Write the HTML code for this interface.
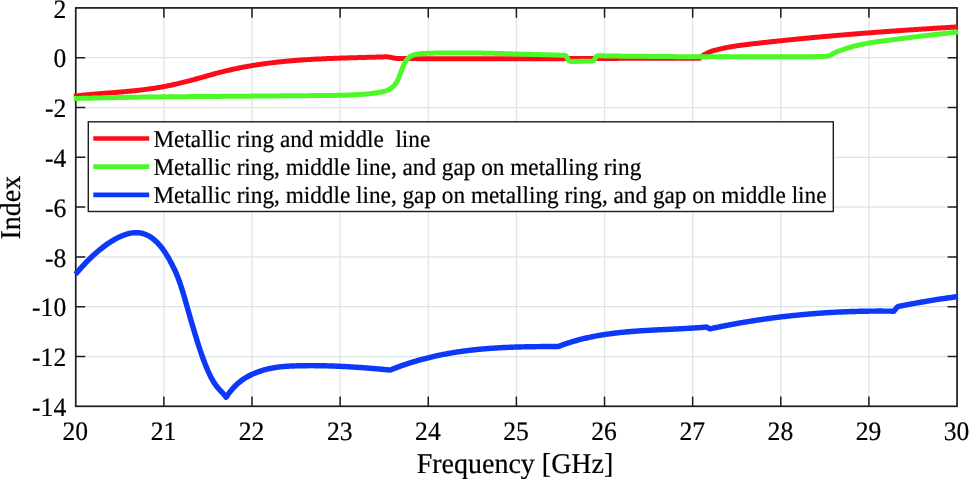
<!DOCTYPE html>
<html><head><meta charset="utf-8"><title>Index vs Frequency</title>
<style>
html,body{margin:0;padding:0;background:#fff;overflow:hidden}
svg{display:block}
text{font-family:"Liberation Serif",serif;text-rendering:geometricPrecision;fill:#000;stroke:#000;stroke-width:.22px}
</style></head>
<body>
<svg width="969" height="479" viewBox="0 0 969 479">
<rect width="969" height="479" fill="#fff"/>
<path d="M163.88 7.9V406.3M252.01 7.9V406.3M340.14 7.9V406.3M428.27 7.9V406.3M516.40 7.9V406.3M604.53 7.9V406.3M692.66 7.9V406.3M780.79 7.9V406.3M868.92 7.9V406.3M75.75 57.70H957.05M75.75 107.50H957.05M75.75 157.30H957.05M75.75 207.10H957.05M75.75 256.90H957.05M75.75 306.70H957.05M75.75 356.50H957.05" stroke="#28645a" stroke-opacity=".17" stroke-width="1.25" fill="none"/>
<path d="M163.88 406.3v-9.8M163.88 7.9v9.8M252.01 406.3v-9.8M252.01 7.9v9.8M340.14 406.3v-9.8M340.14 7.9v9.8M428.27 406.3v-9.8M428.27 7.9v9.8M516.40 406.3v-9.8M516.40 7.9v9.8M604.53 406.3v-9.8M604.53 7.9v9.8M692.66 406.3v-9.8M692.66 7.9v9.8M780.79 406.3v-9.8M780.79 7.9v9.8M868.92 406.3v-9.8M868.92 7.9v9.8M75.75 57.70h9.4M957.05 57.70h-9.4M75.75 107.50h9.4M957.05 107.50h-9.4M75.75 157.30h9.4M957.05 157.30h-9.4M75.75 207.10h9.4M957.05 207.10h-9.4M75.75 256.90h9.4M957.05 256.90h-9.4M75.75 306.70h9.4M957.05 306.70h-9.4M75.75 356.50h9.4M957.05 356.50h-9.4" stroke="#1c1c1c" stroke-width="1.5" fill="none"/>
<rect x="75.75" y="7.9" width="881.30" height="398.40" stroke="#1c1c1c" stroke-width="1.7" fill="none"/>
<path d="M73.9 96.20L74.9 96.08L75.9 95.97L76.9 95.85L77.9 95.74L78.9 95.63L79.9 95.52L80.9 95.41L81.9 95.31L82.9 95.21L83.9 95.11L84.9 95.01L85.9 94.91L86.9 94.81L87.9 94.72L88.9 94.63L89.9 94.53L90.9 94.44L91.9 94.35L92.9 94.27L93.9 94.18L94.9 94.09L95.9 94.01L96.9 93.92L97.9 93.84L98.9 93.76L99.9 93.67L100.9 93.59L101.9 93.51L102.9 93.43L103.9 93.35L104.9 93.27L105.9 93.19L106.9 93.11L107.9 93.03L108.9 92.95L109.9 92.87L110.9 92.79L111.9 92.71L112.9 92.63L113.9 92.55L114.9 92.47L115.9 92.39L116.9 92.31L117.9 92.23L118.9 92.14L119.9 92.06L120.9 91.97L121.9 91.89L122.9 91.80L123.9 91.71L124.9 91.63L125.9 91.54L126.9 91.44L127.9 91.35L128.9 91.26L129.9 91.16L130.9 91.07L131.9 90.97L132.9 90.87L133.9 90.77L134.9 90.66L135.9 90.56L136.9 90.45L137.9 90.34L138.9 90.23L139.9 90.12L140.9 90.00L141.9 89.88L142.9 89.76L143.9 89.64L144.9 89.52L145.9 89.39L146.9 89.26L147.9 89.13L148.9 88.99L149.9 88.85L150.9 88.71L151.9 88.57L152.9 88.42L153.9 88.27L154.9 88.12L155.9 87.96L156.9 87.80L157.9 87.64L158.9 87.47L159.9 87.30L160.9 87.13L161.9 86.95L162.9 86.77L163.9 86.58L164.9 86.39L165.9 86.20L166.9 86.00L167.9 85.80L168.9 85.60L169.9 85.39L170.9 85.18L171.9 84.97L172.9 84.75L173.9 84.53L174.9 84.31L175.9 84.08L176.9 83.85L177.9 83.62L178.9 83.39L179.9 83.15L180.9 82.91L181.9 82.66L182.9 82.42L183.9 82.17L184.9 81.92L185.9 81.67L186.9 81.41L187.9 81.15L188.9 80.89L189.9 80.63L190.9 80.37L191.9 80.10L192.9 79.84L193.9 79.57L194.9 79.30L195.9 79.02L196.9 78.75L197.9 78.48L198.9 78.20L199.9 77.92L200.9 77.64L201.9 77.36L202.9 77.08L203.9 76.80L204.9 76.52L205.9 76.24L206.9 75.96L207.9 75.68L208.9 75.40L209.9 75.12L210.9 74.84L211.9 74.56L212.9 74.28L213.9 74.01L214.9 73.73L215.9 73.46L216.9 73.19L217.9 72.92L218.9 72.66L219.9 72.40L220.9 72.14L221.9 71.88L222.9 71.63L223.9 71.38L224.9 71.14L225.9 70.89L226.9 70.65L227.9 70.42L228.9 70.19L229.9 69.96L230.9 69.73L231.9 69.50L232.9 69.28L233.9 69.06L234.9 68.85L235.9 68.64L236.9 68.43L237.9 68.22L238.9 68.02L239.9 67.82L240.9 67.62L241.9 67.42L242.9 67.23L243.9 67.04L244.9 66.86L245.9 66.67L246.9 66.49L247.9 66.31L248.9 66.14L249.9 65.96L250.9 65.79L251.9 65.62L252.9 65.46L253.9 65.29L254.9 65.13L255.9 64.97L256.9 64.82L257.9 64.66L258.9 64.51L259.9 64.36L260.9 64.22L261.9 64.07L262.9 63.93L263.9 63.79L264.9 63.66L265.9 63.52L266.9 63.39L267.9 63.26L268.9 63.13L269.9 63.00L270.9 62.88L271.9 62.76L272.9 62.64L273.9 62.52L274.9 62.40L275.9 62.29L276.9 62.18L277.9 62.07L278.9 61.96L279.9 61.85L280.9 61.75L281.9 61.65L282.9 61.55L283.9 61.45L284.9 61.35L285.9 61.26L286.9 61.16L287.9 61.07L288.9 60.98L289.9 60.90L290.9 60.81L291.9 60.72L292.9 60.64L293.9 60.56L294.9 60.48L295.9 60.40L296.9 60.32L297.9 60.25L298.9 60.17L299.9 60.10L300.9 60.03L301.9 59.96L302.9 59.89L303.9 59.83L304.9 59.76L305.9 59.70L306.9 59.63L307.9 59.57L308.9 59.51L309.9 59.45L310.9 59.40L311.9 59.34L312.9 59.28L313.9 59.23L314.9 59.18L315.9 59.12L316.9 59.07L317.9 59.02L318.9 58.97L319.9 58.93L320.9 58.88L321.9 58.83L322.9 58.79L323.9 58.74L324.9 58.70L325.9 58.66L326.9 58.61L327.9 58.57L328.9 58.53L329.9 58.49L330.9 58.46L331.9 58.42L332.9 58.38L333.9 58.34L334.9 58.31L335.9 58.27L336.9 58.24L337.9 58.20L338.9 58.17L339.9 58.14L340.9 58.10L341.9 58.07L342.9 58.04L343.9 58.01L344.9 57.98L345.9 57.95L346.9 57.92L347.9 57.89L348.9 57.86L349.9 57.83L350.9 57.80L351.9 57.78L352.9 57.75L353.9 57.72L354.9 57.69L355.9 57.66L356.9 57.64L357.9 57.61L358.9 57.58L359.9 57.55L360.9 57.53L361.9 57.50L362.9 57.47L363.9 57.45L364.9 57.42L365.9 57.39L366.9 57.37L367.9 57.34L368.9 57.31L369.9 57.28L370.9 57.26L371.9 57.23L372.9 57.20L373.9 57.17L374.9 57.14L375.9 57.11L376.9 57.08L377.9 57.05L378.9 57.02L379.9 56.99L380.9 56.96L381.9 56.93L382.9 56.90L383.9 56.87L384.9 56.83L385.9 56.80L386.0 56.80L386.0 56.80L387.0 56.83L388.0 56.90L389.0 57.00L390.0 57.16L391.0 57.38L392.0 57.60L393.0 57.82L394.0 58.04L395.0 58.20L396.0 58.31L397.0 58.40L398.0 58.45L399.0 58.47L400.0 58.49L401.0 58.50L402.0 58.50L402.0 58.50L403.0 58.51L404.0 58.52L405.0 58.53L406.0 58.54L407.0 58.55L408.0 58.56L409.0 58.57L410.0 58.57L411.0 58.58L412.0 58.59L413.0 58.60L414.0 58.61L415.0 58.62L416.0 58.62L417.0 58.63L418.0 58.64L419.0 58.65L420.0 58.65L421.0 58.66L422.0 58.67L423.0 58.67L424.0 58.68L425.0 58.69L426.0 58.69L427.0 58.70L428.0 58.71L429.0 58.71L430.0 58.72L431.0 58.72L432.0 58.73L433.0 58.73L434.0 58.74L435.0 58.75L436.0 58.75L437.0 58.76L438.0 58.76L439.0 58.76L440.0 58.77L441.0 58.77L442.0 58.78L443.0 58.78L444.0 58.79L445.0 58.79L446.0 58.79L447.0 58.80L448.0 58.80L449.0 58.80L450.0 58.81L451.0 58.81L452.0 58.81L453.0 58.82L454.0 58.82L455.0 58.82L456.0 58.83L457.0 58.83L458.0 58.83L459.0 58.83L460.0 58.83L461.0 58.84L462.0 58.84L463.0 58.84L464.0 58.84L465.0 58.84L466.0 58.85L467.0 58.85L468.0 58.85L469.0 58.85L470.0 58.85L471.0 58.85L472.0 58.85L473.0 58.85L474.0 58.85L475.0 58.85L476.0 58.86L477.0 58.86L478.0 58.86L479.0 58.86L480.0 58.86L481.0 58.86L482.0 58.86L483.0 58.86L484.0 58.86L485.0 58.86L486.0 58.86L487.0 58.85L488.0 58.85L489.0 58.85L490.0 58.85L491.0 58.85L492.0 58.85L493.0 58.85L494.0 58.85L495.0 58.85L496.0 58.85L497.0 58.85L498.0 58.84L499.0 58.84L500.0 58.84L501.0 58.84L502.0 58.84L503.0 58.84L504.0 58.83L505.0 58.83L506.0 58.83L507.0 58.83L508.0 58.83L509.0 58.82L510.0 58.82L511.0 58.82L512.0 58.82L513.0 58.82L514.0 58.81L515.0 58.81L516.0 58.81L517.0 58.80L518.0 58.80L519.0 58.80L520.0 58.80L521.0 58.79L522.0 58.79L523.0 58.79L524.0 58.78L525.0 58.78L526.0 58.78L527.0 58.78L528.0 58.77L529.0 58.77L530.0 58.77L531.0 58.76L532.0 58.76L533.0 58.75L534.0 58.75L535.0 58.75L536.0 58.74L537.0 58.74L538.0 58.74L539.0 58.73L540.0 58.73L541.0 58.73L542.0 58.72L543.0 58.72L544.0 58.71L545.0 58.71L546.0 58.71L547.0 58.70L548.0 58.70L549.0 58.69L550.0 58.69L551.0 58.68L552.0 58.68L553.0 58.68L554.0 58.67L555.0 58.67L556.0 58.66L557.0 58.66L558.0 58.65L559.0 58.65L560.0 58.65L561.0 58.64L562.0 58.64L563.0 58.63L564.0 58.63L565.0 58.62L566.0 58.62L567.0 58.61L568.0 58.61L569.0 58.60L570.0 58.60L571.0 58.60L572.0 58.59L573.0 58.59L574.0 58.58L575.0 58.58L576.0 58.57L577.0 58.57L578.0 58.56L579.0 58.56L580.0 58.55L581.0 58.55L582.0 58.54L583.0 58.54L584.0 58.53L585.0 58.53L586.0 58.52L587.0 58.52L588.0 58.52L589.0 58.51L590.0 58.51L591.0 58.50L592.0 58.50L593.0 58.49L594.0 58.49L595.0 58.48L596.0 58.48L597.0 58.47L598.0 58.47L599.0 58.46L600.0 58.46L601.0 58.45L602.0 58.45L603.0 58.45L604.0 58.44L605.0 58.44L606.0 58.43L607.0 58.43L608.0 58.42L609.0 58.42L610.0 58.41L611.0 58.41L612.0 58.40L613.0 58.40L614.0 58.40L615.0 58.39L616.0 58.39L617.0 58.38L618.0 58.38L619.0 58.37L620.0 58.37L621.0 58.37L622.0 58.36L623.0 58.36L624.0 58.35L625.0 58.35L626.0 58.34L627.0 58.34L628.0 58.34L629.0 58.33L630.0 58.33L631.0 58.33L632.0 58.32L633.0 58.32L634.0 58.31L635.0 58.31L636.0 58.31L637.0 58.30L638.0 58.30L639.0 58.30L640.0 58.29L641.0 58.29L642.0 58.29L643.0 58.28L644.0 58.28L645.0 58.28L646.0 58.27L647.0 58.27L648.0 58.27L649.0 58.26L650.0 58.26L651.0 58.26L652.0 58.25L653.0 58.25L654.0 58.25L655.0 58.25L656.0 58.24L657.0 58.24L658.0 58.24L659.0 58.24L660.0 58.23L661.0 58.23L662.0 58.23L663.0 58.23L664.0 58.22L665.0 58.22L666.0 58.22L667.0 58.22L668.0 58.22L669.0 58.21L670.0 58.21L671.0 58.21L672.0 58.21L673.0 58.21L674.0 58.21L675.0 58.21L676.0 58.20L677.0 58.20L678.0 58.20L679.0 58.20L680.0 58.20L681.0 58.20L682.0 58.20L683.0 58.20L684.0 58.20L685.0 58.20L686.0 58.20L687.0 58.20L688.0 58.20L689.0 58.20L690.0 58.20L691.0 58.20L692.0 58.20L693.0 58.20L694.0 58.20L695.0 58.20L696.0 58.20L697.0 58.20L698.0 58.20L699.0 58.20L699.5 58.20L699.5 58.16L700.5 57.31L701.5 56.52L702.5 55.79L703.5 55.11L704.5 54.49L705.5 53.91L706.5 53.38L707.5 52.90L708.5 52.45L709.5 52.03L710.5 51.65L711.5 51.30L712.5 50.97L713.5 50.66L714.5 50.38L715.5 50.10L716.5 49.84L717.5 49.58L718.5 49.33L719.5 49.09L720.5 48.85L721.5 48.63L722.5 48.40L723.5 48.19L724.5 47.98L725.5 47.78L726.5 47.58L727.5 47.39L728.5 47.20L729.5 47.02L730.5 46.85L731.5 46.68L732.5 46.51L733.5 46.35L734.5 46.19L735.5 46.04L736.5 45.89L737.5 45.74L738.5 45.60L739.5 45.46L740.5 45.32L741.5 45.19L742.5 45.06L743.5 44.93L744.5 44.80L745.5 44.68L746.5 44.55L747.5 44.43L748.5 44.31L749.5 44.19L750.5 44.08L751.5 43.96L752.5 43.84L753.5 43.73L754.5 43.61L755.5 43.50L756.5 43.39L757.5 43.27L758.5 43.16L759.5 43.05L760.5 42.93L761.5 42.82L762.5 42.71L763.5 42.60L764.5 42.49L765.5 42.38L766.5 42.27L767.5 42.16L768.5 42.05L769.5 41.94L770.5 41.83L771.5 41.72L772.5 41.61L773.5 41.51L774.5 41.40L775.5 41.29L776.5 41.19L777.5 41.08L778.5 40.98L779.5 40.87L780.5 40.77L781.5 40.66L782.5 40.56L783.5 40.45L784.5 40.35L785.5 40.25L786.5 40.15L787.5 40.04L788.5 39.94L789.5 39.84L790.5 39.74L791.5 39.64L792.5 39.54L793.5 39.44L794.5 39.34L795.5 39.24L796.5 39.14L797.5 39.04L798.5 38.94L799.5 38.85L800.5 38.75L801.5 38.65L802.5 38.56L803.5 38.46L804.5 38.36L805.5 38.27L806.5 38.17L807.5 38.08L808.5 37.98L809.5 37.89L810.5 37.79L811.5 37.70L812.5 37.61L813.5 37.51L814.5 37.42L815.5 37.33L816.5 37.24L817.5 37.15L818.5 37.05L819.5 36.96L820.5 36.87L821.5 36.78L822.5 36.69L823.5 36.60L824.5 36.51L825.5 36.42L826.5 36.34L827.5 36.25L828.5 36.16L829.5 36.07L830.5 35.98L831.5 35.90L832.5 35.81L833.5 35.72L834.5 35.64L835.5 35.55L836.5 35.46L837.5 35.38L838.5 35.29L839.5 35.21L840.5 35.12L841.5 35.04L842.5 34.96L843.5 34.87L844.5 34.79L845.5 34.71L846.5 34.62L847.5 34.54L848.5 34.46L849.5 34.38L850.5 34.30L851.5 34.21L852.5 34.13L853.5 34.05L854.5 33.97L855.5 33.89L856.5 33.81L857.5 33.73L858.5 33.65L859.5 33.57L860.5 33.49L861.5 33.42L862.5 33.34L863.5 33.26L864.5 33.18L865.5 33.10L866.5 33.03L867.5 32.95L868.5 32.87L869.5 32.80L870.5 32.72L871.5 32.64L872.5 32.57L873.5 32.49L874.5 32.42L875.5 32.34L876.5 32.27L877.5 32.19L878.5 32.12L879.5 32.05L880.5 31.97L881.5 31.90L882.5 31.82L883.5 31.75L884.5 31.68L885.5 31.61L886.5 31.53L887.5 31.46L888.5 31.39L889.5 31.32L890.5 31.25L891.5 31.18L892.5 31.10L893.5 31.03L894.5 30.96L895.5 30.89L896.5 30.82L897.5 30.75L898.5 30.68L899.5 30.61L900.5 30.54L901.5 30.48L902.5 30.41L903.5 30.34L904.5 30.27L905.5 30.20L906.5 30.13L907.5 30.07L908.5 30.00L909.5 29.93L910.5 29.86L911.5 29.80L912.5 29.73L913.5 29.66L914.5 29.60L915.5 29.53L916.5 29.46L917.5 29.40L918.5 29.33L919.5 29.27L920.5 29.20L921.5 29.14L922.5 29.07L923.5 29.01L924.5 28.94L925.5 28.88L926.5 28.82L927.5 28.75L928.5 28.69L929.5 28.62L930.5 28.56L931.5 28.50L932.5 28.43L933.5 28.37L934.5 28.31L935.5 28.25L936.5 28.18L937.5 28.12L938.5 28.06L939.5 28.00L940.5 27.94L941.5 27.87L942.5 27.81L943.5 27.75L944.5 27.69L945.5 27.63L946.5 27.57L947.5 27.51L948.5 27.45L949.5 27.39L950.5 27.33L951.5 27.27L952.5 27.21L953.5 27.15L954.5 27.09L955.5 27.03L956.5 26.97L957.5 26.91L957.6 26.90" stroke="#fb0c18" stroke-width="5.0" fill="none" stroke-linejoin="round"/>
<path d="M73.9 98.55L74.9 98.52L75.9 98.50L76.9 98.48L77.9 98.45L78.9 98.43L79.9 98.41L80.9 98.38L81.9 98.36L82.9 98.34L83.9 98.31L84.9 98.29L85.9 98.27L86.9 98.24L87.9 98.22L88.9 98.20L89.9 98.17L90.9 98.15L91.9 98.13L92.9 98.10L93.9 98.08L94.9 98.06L95.9 98.03L96.9 98.01L97.9 97.99L98.9 97.96L99.9 97.94L100.9 97.92L101.9 97.89L102.9 97.87L103.9 97.85L104.9 97.83L105.9 97.80L106.9 97.78L107.9 97.76L108.9 97.74L109.9 97.72L110.9 97.69L111.9 97.67L112.9 97.65L113.9 97.63L114.9 97.61L115.9 97.59L116.9 97.57L117.9 97.54L118.9 97.52L119.9 97.50L120.9 97.48L121.9 97.46L122.9 97.44L123.9 97.42L124.9 97.40L125.9 97.39L126.9 97.37L127.9 97.35L128.9 97.33L129.9 97.31L130.9 97.29L131.9 97.27L132.9 97.26L133.9 97.24L134.9 97.22L135.9 97.21L136.9 97.19L137.9 97.17L138.9 97.16L139.9 97.14L140.9 97.13L141.9 97.11L142.9 97.10L143.9 97.08L144.9 97.07L145.9 97.05L146.9 97.04L147.9 97.03L148.9 97.01L149.9 97.00L150.9 96.99L151.9 96.98L152.9 96.97L153.9 96.95L154.9 96.94L155.9 96.93L156.9 96.92L157.9 96.91L158.9 96.90L159.9 96.89L160.9 96.88L161.9 96.87L162.9 96.85L163.9 96.84L164.9 96.83L165.9 96.82L166.9 96.81L167.9 96.81L168.9 96.80L169.9 96.79L170.9 96.78L171.9 96.77L172.9 96.76L173.9 96.75L174.9 96.74L175.9 96.73L176.9 96.72L177.9 96.71L178.9 96.70L179.9 96.70L180.9 96.69L181.9 96.68L182.9 96.67L183.9 96.66L184.9 96.65L185.9 96.65L186.9 96.64L187.9 96.63L188.9 96.62L189.9 96.61L190.9 96.61L191.9 96.60L192.9 96.59L193.9 96.58L194.9 96.58L195.9 96.57L196.9 96.56L197.9 96.55L198.9 96.54L199.9 96.54L200.9 96.53L201.9 96.52L202.9 96.51L203.9 96.51L204.9 96.50L205.9 96.49L206.9 96.48L207.9 96.48L208.9 96.47L209.9 96.46L210.9 96.45L211.9 96.45L212.9 96.44L213.9 96.43L214.9 96.42L215.9 96.42L216.9 96.41L217.9 96.40L218.9 96.39L219.9 96.38L220.9 96.38L221.9 96.37L222.9 96.36L223.9 96.35L224.9 96.34L225.9 96.33L226.9 96.33L227.9 96.32L228.9 96.31L229.9 96.30L230.9 96.29L231.9 96.28L232.9 96.27L233.9 96.27L234.9 96.26L235.9 96.25L236.9 96.24L237.9 96.23L238.9 96.22L239.9 96.22L240.9 96.21L241.9 96.20L242.9 96.19L243.9 96.18L244.9 96.17L245.9 96.16L246.9 96.16L247.9 96.15L248.9 96.14L249.9 96.13L250.9 96.12L251.9 96.11L252.9 96.11L253.9 96.10L254.9 96.09L255.9 96.08L256.9 96.07L257.9 96.06L258.9 96.06L259.9 96.05L260.9 96.04L261.9 96.03L262.9 96.02L263.9 96.01L264.9 96.01L265.9 96.00L266.9 95.99L267.9 95.98L268.9 95.97L269.9 95.96L270.9 95.96L271.9 95.95L272.9 95.94L273.9 95.93L274.9 95.92L275.9 95.91L276.9 95.91L277.9 95.90L278.9 95.89L279.9 95.88L280.9 95.87L281.9 95.86L282.9 95.85L283.9 95.84L284.9 95.84L285.9 95.83L286.9 95.82L287.9 95.81L288.9 95.80L289.9 95.79L290.9 95.78L291.9 95.77L292.9 95.76L293.9 95.76L294.9 95.75L295.9 95.74L296.9 95.73L297.9 95.72L298.9 95.71L299.9 95.70L300.9 95.69L301.9 95.68L302.9 95.67L303.9 95.67L304.9 95.66L305.9 95.65L306.9 95.64L307.9 95.63L308.9 95.63L309.9 95.62L310.9 95.61L311.9 95.60L312.9 95.60L313.9 95.59L314.9 95.58L315.9 95.57L316.9 95.56L317.9 95.56L318.9 95.55L319.9 95.54L320.9 95.53L321.9 95.52L322.9 95.51L323.9 95.50L324.9 95.50L325.9 95.49L326.9 95.48L327.9 95.46L328.9 95.45L329.9 95.44L330.9 95.43L331.9 95.42L332.9 95.41L333.9 95.39L334.9 95.38L335.9 95.36L336.9 95.35L337.9 95.33L338.9 95.32L339.9 95.30L340.9 95.28L341.9 95.26L342.9 95.24L343.9 95.21L344.9 95.18L345.9 95.15L346.9 95.12L347.9 95.08L348.9 95.04L349.9 95.00L350.9 94.96L351.9 94.92L352.9 94.87L353.9 94.82L354.9 94.77L355.9 94.72L356.9 94.67L357.9 94.62L358.9 94.56L359.9 94.51L360.9 94.45L361.9 94.38L362.9 94.31L363.9 94.24L364.9 94.16L365.9 94.07L366.9 93.99L367.9 93.89L368.9 93.79L369.9 93.69L370.9 93.58L371.9 93.47L372.9 93.35L373.9 93.23L374.9 93.10L375.9 92.95L376.9 92.80L377.9 92.64L378.9 92.46L379.9 92.27L380.9 92.07L381.9 91.86L382.9 91.63L383.9 91.37L384.9 91.09L385.9 90.77L386.9 90.40L387.9 90.00L388.9 89.55L389.9 89.01L390.9 88.36L391.9 87.61L392.9 86.77L393.9 85.81L394.9 84.66L395.9 83.30L396.9 81.69L397.9 79.70L398.9 77.47L399.9 74.87L400.9 72.17L401.9 69.50L402.9 66.96L403.9 64.54L404.9 62.58L405.9 60.96L406.9 59.62L407.9 58.49L408.9 57.51L409.9 56.73L410.9 56.14L411.9 55.64L412.9 55.23L413.9 54.90L414.9 54.63L415.9 54.39L416.9 54.19L417.9 54.02L418.9 53.90L419.9 53.80L420.9 53.71L421.9 53.64L422.9 53.56L423.9 53.50L424.9 53.44L425.9 53.39L426.9 53.35L427.9 53.31L428.9 53.28L429.9 53.25L430.9 53.22L431.9 53.18L432.9 53.15L433.9 53.13L434.9 53.10L435.9 53.07L436.9 53.05L437.9 53.02L438.9 53.00L439.9 52.98L440.9 52.96L441.9 52.95L442.9 52.93L443.9 52.92L444.9 52.91L445.9 52.90L446.9 52.90L447.9 52.90L448.9 52.90L449.9 52.90L450.9 52.90L451.9 52.90L452.9 52.91L453.9 52.91L454.9 52.91L455.9 52.92L456.9 52.92L457.9 52.93L458.9 52.93L459.9 52.94L460.9 52.94L461.9 52.95L462.9 52.95L463.9 52.96L464.9 52.97L465.9 52.98L466.9 52.98L467.9 52.99L468.9 53.00L469.9 53.01L470.9 53.02L471.9 53.02L472.9 53.03L473.9 53.04L474.9 53.05L475.9 53.06L476.9 53.07L477.9 53.08L478.9 53.09L479.9 53.10L480.9 53.11L481.9 53.12L482.9 53.13L483.9 53.15L484.9 53.17L485.9 53.18L486.9 53.20L487.9 53.22L488.9 53.24L489.9 53.26L490.9 53.29L491.9 53.31L492.9 53.33L493.9 53.36L494.9 53.39L495.9 53.41L496.9 53.44L497.9 53.47L498.9 53.49L499.9 53.52L500.9 53.55L501.9 53.58L502.9 53.61L503.9 53.64L504.9 53.67L505.9 53.70L506.9 53.73L507.9 53.76L508.9 53.79L509.9 53.82L510.9 53.84L511.9 53.87L512.9 53.90L513.9 53.93L514.9 53.95L515.9 53.98L516.9 54.01L517.9 54.03L518.9 54.06L519.9 54.08L520.9 54.11L521.9 54.13L522.9 54.16L523.9 54.18L524.9 54.21L525.9 54.23L526.9 54.26L527.9 54.28L528.9 54.31L529.9 54.33L530.9 54.36L531.9 54.39L532.9 54.41L533.9 54.44L534.9 54.46L535.9 54.49L536.9 54.52L537.9 54.54L538.9 54.57L539.9 54.60L540.9 54.62L541.9 54.65L542.9 54.68L543.9 54.71L544.9 54.73L545.9 54.76L546.9 54.79L547.9 54.82L548.9 54.85L549.9 54.87L550.9 54.90L551.9 54.93L552.9 54.96L553.9 54.99L554.9 55.02L555.9 55.04L556.9 55.07L557.9 55.10L558.9 55.13L559.9 55.16L560.9 55.19L561.9 55.22L562.9 55.25L563.9 55.28L564.6 55.30L564.6 55.30L565.6 55.71L566.6 56.61L567.6 58.81L568.6 60.57L569.6 61.18L570.5 61.40L570.5 61.40L592.0 61.00L592.0 61.00L593.0 60.80L594.0 60.30L595.0 58.61L596.0 56.80L597.0 56.04L598.0 55.70L598.0 55.70L599.0 55.73L600.0 55.77L601.0 55.80L602.0 55.83L603.0 55.86L604.0 55.89L605.0 55.91L606.0 55.92L607.0 55.94L608.0 55.96L609.0 55.97L610.0 55.99L611.0 56.00L612.0 56.02L613.0 56.03L614.0 56.05L615.0 56.06L616.0 56.08L617.0 56.09L618.0 56.10L619.0 56.11L620.0 56.13L621.0 56.14L622.0 56.15L623.0 56.16L624.0 56.17L625.0 56.18L626.0 56.19L627.0 56.20L628.0 56.21L629.0 56.22L630.0 56.23L631.0 56.24L632.0 56.25L633.0 56.26L634.0 56.27L635.0 56.27L636.0 56.28L637.0 56.29L638.0 56.30L639.0 56.31L640.0 56.32L641.0 56.33L642.0 56.33L643.0 56.34L644.0 56.35L645.0 56.36L646.0 56.37L647.0 56.37L648.0 56.38L649.0 56.39L650.0 56.40L651.0 56.41L652.0 56.42L653.0 56.43L654.0 56.44L655.0 56.44L656.0 56.45L657.0 56.46L658.0 56.47L659.0 56.48L660.0 56.49L661.0 56.50L662.0 56.51L663.0 56.52L664.0 56.53L665.0 56.54L666.0 56.55L667.0 56.56L668.0 56.57L669.0 56.58L670.0 56.58L671.0 56.59L672.0 56.60L673.0 56.61L674.0 56.62L675.0 56.63L676.0 56.63L677.0 56.64L678.0 56.65L679.0 56.65L680.0 56.66L681.0 56.67L682.0 56.67L683.0 56.68L684.0 56.68L685.0 56.68L686.0 56.69L687.0 56.69L688.0 56.69L689.0 56.70L690.0 56.70L691.0 56.70L692.0 56.70L693.0 56.70L694.0 56.70L695.0 56.70L696.0 56.70L697.0 56.70L698.0 56.70L699.0 56.70L700.0 56.70L701.0 56.70L702.0 56.70L703.0 56.70L704.0 56.70L705.0 56.70L706.0 56.70L707.0 56.70L708.0 56.70L709.0 56.70L710.0 56.70L711.0 56.70L712.0 56.70L713.0 56.70L714.0 56.70L715.0 56.70L716.0 56.70L717.0 56.70L718.0 56.70L719.0 56.70L720.0 56.70L721.0 56.70L722.0 56.70L723.0 56.70L724.0 56.70L725.0 56.70L726.0 56.70L727.0 56.70L728.0 56.70L729.0 56.70L730.0 56.70L731.0 56.70L732.0 56.70L733.0 56.70L734.0 56.70L735.0 56.70L736.0 56.71L737.0 56.71L738.0 56.71L739.0 56.71L740.0 56.71L741.0 56.71L742.0 56.72L743.0 56.72L744.0 56.72L745.0 56.72L746.0 56.73L747.0 56.73L748.0 56.73L749.0 56.73L750.0 56.74L751.0 56.74L752.0 56.74L753.0 56.75L754.0 56.75L755.0 56.75L756.0 56.75L757.0 56.76L758.0 56.76L759.0 56.76L760.0 56.77L761.0 56.77L762.0 56.77L763.0 56.77L764.0 56.78L765.0 56.78L766.0 56.78L767.0 56.78L768.0 56.79L769.0 56.79L770.0 56.79L771.0 56.79L772.0 56.79L773.0 56.79L774.0 56.80L775.0 56.80L776.0 56.80L777.0 56.80L778.0 56.80L779.0 56.80L780.0 56.80L781.0 56.80L782.0 56.80L783.0 56.80L784.0 56.80L785.0 56.79L786.0 56.79L787.0 56.79L788.0 56.79L789.0 56.78L790.0 56.78L791.0 56.77L792.0 56.77L793.0 56.77L794.0 56.76L795.0 56.76L796.0 56.75L797.0 56.75L798.0 56.74L799.0 56.73L800.0 56.73L801.0 56.72L802.0 56.72L803.0 56.71L804.0 56.71L805.0 56.70L806.0 56.69L807.0 56.69L808.0 56.68L809.0 56.68L810.0 56.67L811.0 56.67L812.0 56.66L813.0 56.65L814.0 56.64L815.0 56.63L816.0 56.62L817.0 56.61L818.0 56.60L819.0 56.59L820.0 56.57L821.0 56.56L822.0 56.54L823.0 56.51L824.0 56.46L825.0 56.41L826.0 56.33L827.0 56.23L828.0 56.02L829.0 55.73L830.0 55.39L831.0 54.88L832.0 54.21L833.0 53.64L834.0 53.12L835.0 52.63L836.0 52.17L837.0 51.75L838.0 51.36L839.0 50.99L840.0 50.64L841.0 50.29L842.0 49.94L843.0 49.59L844.0 49.24L845.0 48.89L846.0 48.54L847.0 48.20L848.0 47.88L849.0 47.57L850.0 47.28L851.0 46.99L852.0 46.72L853.0 46.45L854.0 46.19L855.0 45.94L856.0 45.70L857.0 45.46L858.0 45.23L859.0 45.01L860.0 44.80L861.0 44.59L862.0 44.38L863.0 44.18L864.0 43.99L865.0 43.80L866.0 43.61L867.0 43.43L868.0 43.25L869.0 43.08L870.0 42.90L871.0 42.73L872.0 42.57L873.0 42.40L874.0 42.24L875.0 42.08L876.0 41.93L877.0 41.78L878.0 41.63L879.0 41.48L880.0 41.34L881.0 41.19L882.0 41.06L883.0 40.92L884.0 40.79L885.0 40.66L886.0 40.53L887.0 40.40L888.0 40.27L889.0 40.15L890.0 40.03L891.0 39.90L892.0 39.78L893.0 39.66L894.0 39.54L895.0 39.42L896.0 39.29L897.0 39.17L898.0 39.05L899.0 38.93L900.0 38.80L901.0 38.67L902.0 38.55L903.0 38.42L904.0 38.29L905.0 38.16L906.0 38.04L907.0 37.91L908.0 37.78L909.0 37.65L910.0 37.52L911.0 37.40L912.0 37.27L913.0 37.14L914.0 37.01L915.0 36.89L916.0 36.76L917.0 36.63L918.0 36.51L919.0 36.38L920.0 36.26L921.0 36.13L922.0 36.01L923.0 35.89L924.0 35.77L925.0 35.65L926.0 35.53L927.0 35.41L928.0 35.30L929.0 35.18L930.0 35.07L931.0 34.95L932.0 34.84L933.0 34.73L934.0 34.62L935.0 34.52L936.0 34.41L937.0 34.30L938.0 34.20L939.0 34.09L940.0 33.98L941.0 33.88L942.0 33.77L943.0 33.67L944.0 33.56L945.0 33.46L946.0 33.35L947.0 33.24L948.0 33.14L949.0 33.03L950.0 32.92L951.0 32.81L952.0 32.70L953.0 32.59L954.0 32.47L955.0 32.36L956.0 32.24L957.0 32.12L958.0 32.00" stroke="#4cf828" stroke-width="5.0" fill="none" stroke-linejoin="round"/>
<path d="M75.6 274.20L76.6 273.02L77.6 271.84L78.6 270.69L79.6 269.54L80.6 268.41L81.6 267.30L82.6 266.20L83.6 265.12L84.6 264.05L85.6 262.99L86.6 261.95L87.6 260.93L88.6 259.92L89.6 258.93L90.6 257.95L91.6 256.99L92.6 256.05L93.6 255.12L94.6 254.20L95.6 253.31L96.6 252.43L97.6 251.56L98.6 250.71L99.6 249.88L100.6 249.07L101.6 248.27L102.6 247.49L103.6 246.73L104.6 245.98L105.6 245.25L106.6 244.54L107.6 243.84L108.6 243.17L109.6 242.51L110.6 241.87L111.6 241.24L112.6 240.64L113.6 240.05L114.6 239.48L115.6 238.93L116.6 238.40L117.6 237.88L118.6 237.39L119.6 236.91L120.6 236.45L121.6 236.01L122.6 235.60L123.6 235.21L124.6 234.84L125.6 234.49L126.6 234.17L127.6 233.88L128.6 233.62L129.6 233.38L130.6 233.18L131.6 233.01L132.6 232.87L133.6 232.76L134.6 232.68L135.6 232.65L136.6 232.65L137.6 232.68L138.6 232.76L139.6 232.87L140.6 233.03L141.6 233.22L142.6 233.46L143.6 233.75L144.6 234.08L145.6 234.45L146.6 234.88L147.6 235.35L148.6 235.87L149.6 236.44L150.6 237.06L151.6 237.74L152.6 238.47L153.6 239.25L154.6 240.09L155.6 240.99L156.6 241.94L157.6 242.96L158.6 244.03L159.6 245.16L160.6 246.36L161.6 247.62L162.6 248.95L163.6 250.33L164.6 251.79L165.6 253.30L166.6 254.88L167.6 256.53L168.6 258.23L169.6 260.00L170.6 261.83L171.6 263.71L172.6 265.66L173.6 267.68L174.6 269.77L175.6 271.95L176.6 274.26L177.6 276.72L178.6 279.33L179.6 282.10L180.6 285.02L181.6 288.08L182.6 291.27L183.6 294.58L184.6 297.99L185.6 301.45L186.6 304.96L187.6 308.47L188.6 311.98L189.6 315.48L190.6 318.96L191.6 322.42L192.6 325.85L193.6 329.24L194.6 332.59L195.6 335.89L196.6 339.14L197.6 342.33L198.6 345.46L199.6 348.51L200.6 351.50L201.6 354.40L202.6 357.23L203.6 359.97L204.6 362.62L205.6 365.18L206.6 367.64L207.6 370.01L208.6 372.27L209.6 374.42L210.6 376.45L211.6 378.38L212.6 380.18L213.6 381.86L214.6 383.41L215.6 384.85L216.6 386.18L217.6 387.42L218.6 388.60L219.6 389.73L220.6 390.82L221.6 391.90L222.6 392.99L223.6 394.10L224.6 395.24L225.6 396.44L226.2 397.20L226.2 397.19L227.2 395.71L228.2 394.29L229.2 392.93L230.2 391.64L231.2 390.40L232.2 389.21L233.2 388.08L234.2 387.00L235.2 385.98L236.2 384.99L237.2 384.06L238.2 383.17L239.2 382.32L240.2 381.51L241.2 380.75L242.2 380.01L243.2 379.32L244.2 378.65L245.2 378.02L246.2 377.42L247.2 376.84L248.2 376.29L249.2 375.77L250.2 375.26L251.2 374.78L252.2 374.31L253.2 373.86L254.2 373.43L255.2 373.01L256.2 372.61L257.2 372.22L258.2 371.85L259.2 371.50L260.2 371.16L261.2 370.83L262.2 370.52L263.2 370.22L264.2 369.93L265.2 369.66L266.2 369.40L267.2 369.15L268.2 368.91L269.2 368.68L270.2 368.47L271.2 368.27L272.2 368.08L273.2 367.89L274.2 367.72L275.2 367.56L276.2 367.41L277.2 367.27L278.2 367.13L279.2 367.00L280.2 366.89L281.2 366.78L282.2 366.67L283.2 366.58L284.2 366.49L285.2 366.41L286.2 366.33L287.2 366.26L288.2 366.20L289.2 366.14L290.2 366.09L291.2 366.04L292.2 365.99L293.2 365.95L294.2 365.91L295.2 365.88L296.2 365.85L297.2 365.82L298.2 365.80L299.2 365.77L300.2 365.75L301.2 365.73L302.2 365.72L303.2 365.70L304.2 365.69L305.2 365.68L306.2 365.67L307.2 365.66L308.2 365.65L309.2 365.65L310.2 365.64L311.2 365.64L312.2 365.64L313.2 365.65L314.2 365.65L315.2 365.66L316.2 365.66L317.2 365.67L318.2 365.69L319.2 365.70L320.2 365.71L321.2 365.73L322.2 365.75L323.2 365.77L324.2 365.79L325.2 365.81L326.2 365.83L327.2 365.86L328.2 365.89L329.2 365.92L330.2 365.95L331.2 365.98L332.2 366.01L333.2 366.05L334.2 366.08L335.2 366.12L336.2 366.16L337.2 366.20L338.2 366.24L339.2 366.29L340.2 366.33L341.2 366.38L342.2 366.43L343.2 366.47L344.2 366.53L345.2 366.58L346.2 366.63L347.2 366.68L348.2 366.74L349.2 366.80L350.2 366.86L351.2 366.92L352.2 366.98L353.2 367.04L354.2 367.10L355.2 367.17L356.2 367.23L357.2 367.30L358.2 367.37L359.2 367.44L360.2 367.51L361.2 367.58L362.2 367.65L363.2 367.73L364.2 367.80L365.2 367.88L366.2 367.96L367.2 368.03L368.2 368.11L369.2 368.19L370.2 368.27L371.2 368.36L372.2 368.44L373.2 368.53L374.2 368.61L375.2 368.70L376.2 368.78L377.2 368.87L378.2 368.96L379.2 369.05L380.2 369.14L381.2 369.23L382.2 369.33L383.2 369.42L384.2 369.52L385.2 369.61L386.2 369.71L387.2 369.80L388.2 369.90L389.2 370.00L390.1 370.09L390.1 370.10L391.1 369.69L392.1 369.29L393.1 368.90L394.1 368.51L395.1 368.12L396.1 367.74L397.1 367.36L398.1 366.99L399.1 366.62L400.1 366.26L401.1 365.90L402.1 365.54L403.1 365.19L404.1 364.84L405.1 364.50L406.1 364.16L407.1 363.83L408.1 363.50L409.1 363.18L410.1 362.86L411.1 362.54L412.1 362.23L413.1 361.92L414.1 361.62L415.1 361.32L416.1 361.02L417.1 360.73L418.1 360.44L419.1 360.16L420.1 359.88L421.1 359.60L422.1 359.33L423.1 359.06L424.1 358.79L425.1 358.53L426.1 358.28L427.1 358.02L428.1 357.77L429.1 357.53L430.1 357.28L431.1 357.05L432.1 356.81L433.1 356.58L434.1 356.35L435.1 356.13L436.1 355.91L437.1 355.69L438.1 355.47L439.1 355.26L440.1 355.06L441.1 354.85L442.1 354.65L443.1 354.45L444.1 354.26L445.1 354.07L446.1 353.88L447.1 353.70L448.1 353.51L449.1 353.34L450.1 353.16L451.1 352.99L452.1 352.82L453.1 352.65L454.1 352.49L455.1 352.33L456.1 352.17L457.1 352.02L458.1 351.87L459.1 351.72L460.1 351.57L461.1 351.43L462.1 351.29L463.1 351.15L464.1 351.02L465.1 350.89L466.1 350.76L467.1 350.63L468.1 350.50L469.1 350.38L470.1 350.26L471.1 350.15L472.1 350.03L473.1 349.92L474.1 349.81L475.1 349.71L476.1 349.60L477.1 349.50L478.1 349.40L479.1 349.30L480.1 349.21L481.1 349.11L482.1 349.02L483.1 348.94L484.1 348.85L485.1 348.76L486.1 348.68L487.1 348.60L488.1 348.52L489.1 348.45L490.1 348.37L491.1 348.30L492.1 348.23L493.1 348.16L494.1 348.10L495.1 348.03L496.1 347.97L497.1 347.91L498.1 347.85L499.1 347.79L500.1 347.74L501.1 347.68L502.1 347.63L503.1 347.58L504.1 347.53L505.1 347.48L506.1 347.44L507.1 347.39L508.1 347.35L509.1 347.31L510.1 347.27L511.1 347.23L512.1 347.19L513.1 347.16L514.1 347.12L515.1 347.09L516.1 347.06L517.1 347.03L518.1 347.00L519.1 346.97L520.1 346.94L521.1 346.92L522.1 346.89L523.1 346.87L524.1 346.85L525.1 346.82L526.1 346.80L527.1 346.78L528.1 346.77L529.1 346.75L530.1 346.73L531.1 346.71L532.1 346.70L533.1 346.68L534.1 346.67L535.1 346.66L536.1 346.65L537.1 346.63L538.1 346.62L539.1 346.61L540.1 346.60L541.1 346.59L542.1 346.59L543.1 346.58L544.1 346.57L545.1 346.56L546.1 346.56L547.1 346.55L548.1 346.54L549.1 346.54L550.1 346.53L551.1 346.53L552.1 346.53L553.1 346.52L554.1 346.52L555.1 346.51L556.1 346.51L557.1 346.51L558.1 346.50L558.3 346.50L558.3 346.49L559.3 346.10L560.3 345.72L561.3 345.35L562.3 344.98L563.3 344.62L564.3 344.27L565.3 343.92L566.3 343.58L567.3 343.25L568.3 342.92L569.3 342.60L570.3 342.29L571.3 341.98L572.3 341.68L573.3 341.38L574.3 341.09L575.3 340.80L576.3 340.52L577.3 340.25L578.3 339.98L579.3 339.71L580.3 339.45L581.3 339.20L582.3 338.95L583.3 338.70L584.3 338.46L585.3 338.23L586.3 338.00L587.3 337.77L588.3 337.55L589.3 337.34L590.3 337.12L591.3 336.92L592.3 336.71L593.3 336.51L594.3 336.32L595.3 336.13L596.3 335.94L597.3 335.76L598.3 335.58L599.3 335.40L600.3 335.23L601.3 335.06L602.3 334.90L603.3 334.74L604.3 334.58L605.3 334.43L606.3 334.28L607.3 334.13L608.3 333.99L609.3 333.85L610.3 333.72L611.3 333.58L612.3 333.45L613.3 333.32L614.3 333.20L615.3 333.08L616.3 332.96L617.3 332.84L618.3 332.73L619.3 332.62L620.3 332.51L621.3 332.41L622.3 332.31L623.3 332.21L624.3 332.11L625.3 332.01L626.3 331.92L627.3 331.83L628.3 331.74L629.3 331.66L630.3 331.57L631.3 331.49L632.3 331.41L633.3 331.33L634.3 331.25L635.3 331.18L636.3 331.11L637.3 331.04L638.3 330.97L639.3 330.90L640.3 330.83L641.3 330.77L642.3 330.70L643.3 330.64L644.3 330.58L645.3 330.52L646.3 330.46L647.3 330.40L648.3 330.35L649.3 330.29L650.3 330.24L651.3 330.18L652.3 330.13L653.3 330.08L654.3 330.03L655.3 329.98L656.3 329.93L657.3 329.88L658.3 329.83L659.3 329.78L660.3 329.73L661.3 329.69L662.3 329.64L663.3 329.59L664.3 329.55L665.3 329.50L666.3 329.45L667.3 329.41L668.3 329.36L669.3 329.31L670.3 329.27L671.3 329.22L672.3 329.17L673.3 329.13L674.3 329.08L675.3 329.03L676.3 328.98L677.3 328.93L678.3 328.88L679.3 328.83L680.3 328.78L681.3 328.73L682.3 328.68L683.3 328.62L684.3 328.57L685.3 328.51L686.3 328.46L687.3 328.40L688.3 328.34L689.3 328.28L690.3 328.22L691.3 328.16L692.3 328.09L693.3 328.03L694.3 327.96L695.3 327.89L696.3 327.82L697.3 327.75L698.3 327.68L699.3 327.60L700.3 327.53L701.3 327.45L702.3 327.37L703.3 327.29L704.3 327.20L705.3 327.11L706.3 327.03L706.6 327.00L706.6 327.00L707.6 327.70L708.6 328.25L709.6 328.65L710.1 328.80L710.1 328.80L711.1 328.59L712.1 328.37L713.1 328.16L714.1 327.95L715.1 327.74L716.1 327.53L717.1 327.32L718.1 327.12L719.1 326.91L720.1 326.71L721.1 326.51L722.1 326.31L723.1 326.11L724.1 325.91L725.1 325.72L726.1 325.52L727.1 325.33L728.1 325.14L729.1 324.95L730.1 324.76L731.1 324.57L732.1 324.38L733.1 324.20L734.1 324.02L735.1 323.83L736.1 323.65L737.1 323.47L738.1 323.30L739.1 323.12L740.1 322.94L741.1 322.77L742.1 322.60L743.1 322.42L744.1 322.25L745.1 322.09L746.1 321.92L747.1 321.75L748.1 321.59L749.1 321.42L750.1 321.26L751.1 321.10L752.1 320.94L753.1 320.78L754.1 320.63L755.1 320.47L756.1 320.32L757.1 320.17L758.1 320.01L759.1 319.86L760.1 319.72L761.1 319.57L762.1 319.42L763.1 319.28L764.1 319.14L765.1 318.99L766.1 318.85L767.1 318.71L768.1 318.57L769.1 318.44L770.1 318.30L771.1 318.17L772.1 318.04L773.1 317.90L774.1 317.77L775.1 317.65L776.1 317.52L777.1 317.39L778.1 317.27L779.1 317.14L780.1 317.02L781.1 316.90L782.1 316.78L783.1 316.66L784.1 316.54L785.1 316.43L786.1 316.31L787.1 316.20L788.1 316.09L789.1 315.98L790.1 315.87L791.1 315.76L792.1 315.65L793.1 315.55L794.1 315.44L795.1 315.34L796.1 315.24L797.1 315.14L798.1 315.04L799.1 314.94L800.1 314.84L801.1 314.75L802.1 314.65L803.1 314.56L804.1 314.47L805.1 314.38L806.1 314.29L807.1 314.20L808.1 314.11L809.1 314.03L810.1 313.95L811.1 313.86L812.1 313.78L813.1 313.70L814.1 313.62L815.1 313.54L816.1 313.47L817.1 313.39L818.1 313.32L819.1 313.24L820.1 313.17L821.1 313.10L822.1 313.03L823.1 312.97L824.1 312.90L825.1 312.83L826.1 312.77L827.1 312.71L828.1 312.64L829.1 312.58L830.1 312.52L831.1 312.47L832.1 312.41L833.1 312.35L834.1 312.30L835.1 312.25L836.1 312.19L837.1 312.14L838.1 312.09L839.1 312.05L840.1 312.00L841.1 311.95L842.1 311.91L843.1 311.86L844.1 311.82L845.1 311.78L846.1 311.74L847.1 311.70L848.1 311.66L849.1 311.63L850.1 311.59L851.1 311.56L852.1 311.53L853.1 311.50L854.1 311.46L855.1 311.44L856.1 311.41L857.1 311.38L858.1 311.36L859.1 311.33L860.1 311.31L861.1 311.29L862.1 311.26L863.1 311.25L864.1 311.23L865.1 311.21L866.1 311.19L867.1 311.18L868.1 311.16L869.1 311.15L870.1 311.14L871.1 311.13L872.1 311.12L873.1 311.11L874.1 311.11L875.1 311.10L876.1 311.10L877.1 311.09L878.1 311.09L879.1 311.09L880.1 311.09L881.1 311.09L882.1 311.09L883.1 311.10L884.1 311.10L885.1 311.11L886.1 311.11L887.1 311.12L888.1 311.13L889.1 311.14L890.1 311.15L891.1 311.17L892.1 311.18L893.1 311.20L893.7 311.21L893.7 311.20L894.7 310.10L895.7 308.96L896.7 307.64L897.7 306.84L898.7 306.37L899.7 306.12L900.0 306.10L900.0 306.10L901.0 305.90L902.0 305.71L903.0 305.51L904.0 305.32L905.0 305.13L906.0 304.94L907.0 304.75L908.0 304.56L909.0 304.37L910.0 304.18L911.0 303.99L912.0 303.81L913.0 303.63L914.0 303.44L915.0 303.26L916.0 303.08L917.0 302.91L918.0 302.73L919.0 302.55L920.0 302.38L921.0 302.20L922.0 302.03L923.0 301.86L924.0 301.69L925.0 301.51L926.0 301.34L927.0 301.17L928.0 301.01L929.0 300.84L930.0 300.67L931.0 300.50L932.0 300.34L933.0 300.17L934.0 300.00L935.0 299.84L936.0 299.67L937.0 299.51L938.0 299.35L939.0 299.18L940.0 299.02L941.0 298.87L942.0 298.72L943.0 298.59L944.0 298.46L945.0 298.33L946.0 298.20L947.0 298.08L948.0 297.95L949.0 297.82L950.0 297.68L951.0 297.53L952.0 297.37L953.0 297.20L954.0 297.01L955.0 296.81L956.0 296.59L957.0 296.35L957.6 296.15" stroke="#0e38f8" stroke-width="5.45" fill="none" stroke-linejoin="round"/>
<rect x="88.3" y="121.8" width="745.0" height="89.7" fill="#fff" stroke="#1c1c1c" stroke-width="1.4"/>
<path d="M93.3 138.5H149.2" stroke="#fb0c18" stroke-width="4.7"/>
<path d="M93.3 166.6H149.2" stroke="#4cf828" stroke-width="4.7"/>
<path d="M93.3 194.8H149.2" stroke="#0e38f8" stroke-width="4.7"/>
<text transform="translate(153.4 147.0) scale(0.9607 1)" font-size="24.2" xml:space="preserve">Metallic ring and middle  line</text>
<text transform="translate(153.4 175.0) scale(0.9607 1)" font-size="24.2" xml:space="preserve">Metallic ring, middle line, and gap on metalling ring</text>
<text transform="translate(153.4 203.0) scale(0.9607 1)" font-size="24.2" xml:space="preserve">Metallic ring, middle line, gap on metalling ring, and gap on middle line</text>
<text transform="translate(75.3 440.4) scale(0.9624 1)" font-size="26.6" text-anchor="middle">20</text>
<text transform="translate(163.5 440.4) scale(0.9624 1)" font-size="26.6" text-anchor="middle">21</text>
<text transform="translate(251.6 440.4) scale(0.9624 1)" font-size="26.6" text-anchor="middle">22</text>
<text transform="translate(339.7 440.4) scale(0.9624 1)" font-size="26.6" text-anchor="middle">23</text>
<text transform="translate(427.9 440.4) scale(0.9624 1)" font-size="26.6" text-anchor="middle">24</text>
<text transform="translate(516.0 440.4) scale(0.9624 1)" font-size="26.6" text-anchor="middle">25</text>
<text transform="translate(604.1 440.4) scale(0.9624 1)" font-size="26.6" text-anchor="middle">26</text>
<text transform="translate(692.3 440.4) scale(0.9624 1)" font-size="26.6" text-anchor="middle">27</text>
<text transform="translate(780.4 440.4) scale(0.9624 1)" font-size="26.6" text-anchor="middle">28</text>
<text transform="translate(868.5 440.4) scale(0.9624 1)" font-size="26.6" text-anchor="middle">29</text>
<text transform="translate(956.6 440.4) scale(0.9624 1)" font-size="26.6" text-anchor="middle">30</text>
<text transform="translate(66.2 17.6) scale(0.9624 1)" font-size="26.6" text-anchor="end">2</text>
<text transform="translate(66.2 67.4) scale(0.9624 1)" font-size="26.6" text-anchor="end">0</text>
<text transform="translate(66.2 117.2) scale(0.9624 1)" font-size="26.6" text-anchor="end">-2</text>
<text transform="translate(66.2 167.0) scale(0.9624 1)" font-size="26.6" text-anchor="end">-4</text>
<text transform="translate(66.2 216.8) scale(0.9624 1)" font-size="26.6" text-anchor="end">-6</text>
<text transform="translate(66.2 266.6) scale(0.9624 1)" font-size="26.6" text-anchor="end">-8</text>
<text transform="translate(66.2 316.4) scale(0.9624 1)" font-size="26.6" text-anchor="end">-10</text>
<text transform="translate(66.2 366.2) scale(0.9624 1)" font-size="26.6" text-anchor="end">-12</text>
<text transform="translate(66.2 416.0) scale(0.9624 1)" font-size="26.6" text-anchor="end">-14</text>
<text transform="translate(515 473.2) scale(0.9756 1)" font-size="28.7" text-anchor="middle">Frequency [GHz]</text>
<text transform="translate(19.9 207.6) rotate(-90) scale(0.9756 1)" font-size="28.7" text-anchor="middle">Index</text>
</svg>
</body></html>
